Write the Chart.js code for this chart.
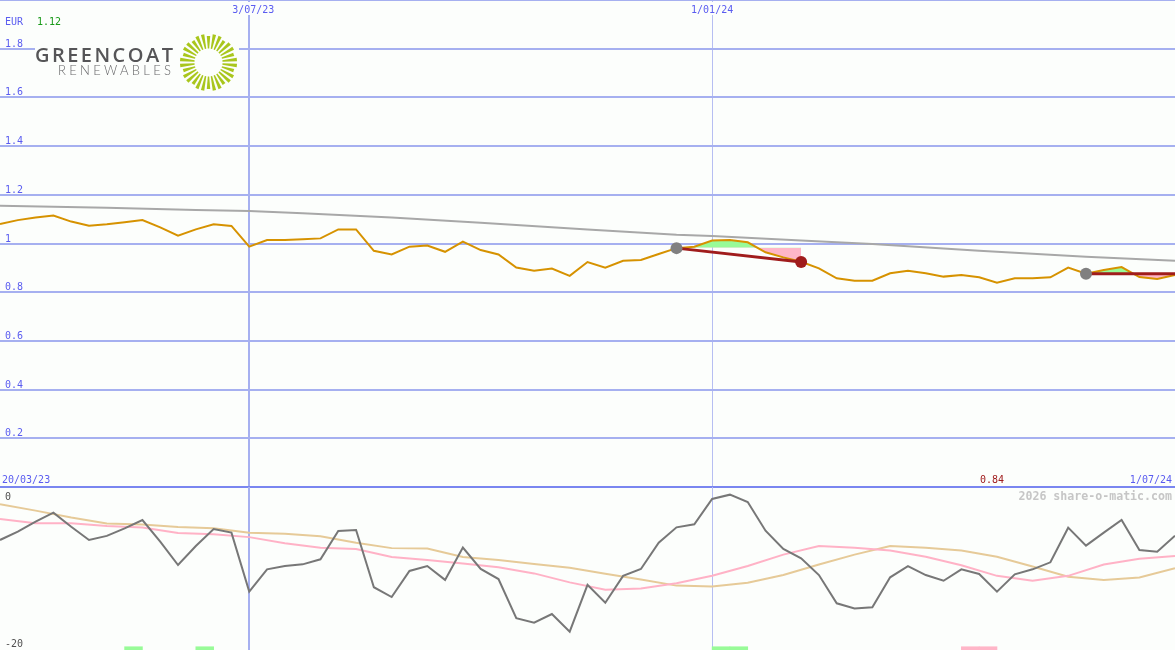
<!DOCTYPE html>
<html><head><meta charset="utf-8">
<script src="https://cdn.jsdelivr.net/npm/chart.js@4.4.1/dist/chart.umd.min.js"></script>
<style>
html,body{margin:0;padding:0;background:#fcfefc;}
#wrap{position:relative;width:1175px;height:650px;background:#fcfefc;overflow:hidden;}
#top{position:absolute;left:0;top:0;}
#bot{position:absolute;left:0;top:487px;}
</style></head><body>
<div id="wrap"><canvas id="top" width="1175" height="489"></canvas><canvas id="bot" width="1175" height="163"></canvas></div>
<script>
// ---- data (x = week index, 0 = first week shown, 66 = 1/07/24) ----
const firstWeek = 0;
const lastWeek = 66;
const price = [1.080,1.096,1.107,1.115,1.090,1.073,1.079,1.087,1.096,1.066,1.032,1.058,1.079,1.072,0.987,1.014,1.014,1.017,1.021,1.058,1.058,0.970,0.955,0.987,0.992,0.966,1.008,0.973,0.955,0.901,0.888,0.897,0.867,0.924,0.901,0.929,0.932,0.957,0.981,0.987,1.012,1.014,1.005,0.964,0.943,0.925,0.898,0.857,0.847,0.847,0.878,0.888,0.878,0.864,0.871,0.861,0.839,0.857,0.857,0.861,0.901,0.876,0.891,0.903,0.862,0.854,0.871];
const maWeeks = [0,6,11,14,17,22,27,33,38,40,45,49,55,61,66];
const maVals  = [1.155,1.147,1.138,1.133,1.124,1.107,1.085,1.057,1.036,1.031,1.012,0.998,0.970,0.946,0.929];

const trendStartWeek = [38, 61];
const trendEndWeek   = [45, 66];
const trendStartVal  = [0.981, 0.876];
const trendEndVal    = [0.924, 0.876];
const fillLevel      = [0.983, 0.876];

const dotWeek = [38, 45, 61];
const dotVal  = [0.981, 0.924, 0.876];
const dotKind = ['start', 'end', 'start'];

const osc = [-6.5,-5.48,-4.26,-3.15,-4.87,-6.5,-6.0,-5.07,-4.05,-6.71,-9.57,-7.24,-5.15,-5.6,-12.84,-10.1,-9.7,-9.49,-8.87,-5.4,-5.28,-12.3,-13.5,-10.3,-9.7,-11.4,-7.44,-10.06,-11.29,-16.1,-16.65,-15.58,-17.75,-12.0,-14.2,-10.9,-10.06,-6.83,-4.95,-4.58,-1.47,-0.94,-1.84,-5.36,-7.6,-8.75,-10.8,-14.27,-14.9,-14.76,-11.08,-9.7,-10.8,-11.5,-10.1,-10.67,-12.84,-10.72,-10.1,-9.24,-4.99,-7.2,-5.6,-4.05,-7.73,-7.94,-5.97];
const avgWeeks = [0,2,4,6,8,10,12,14,16,18,20,22,24,26,28,30,32,34,36,38,40,42,44,46,48,50,52,54,56,58,60,62,64,66];
const pinkAvg = [-3.93,-4.46,-4.46,-4.8,-4.98,-5.65,-5.81,-6.15,-6.9,-7.45,-7.6,-8.6,-8.95,-9.4,-9.85,-10.6,-11.7,-12.6,-12.45,-11.8,-10.9,-9.7,-8.3,-7.24,-7.45,-7.8,-8.55,-9.6,-10.9,-11.5,-10.9,-9.5,-8.8,-8.47];
const tanAvg  = [-2.13,-2.9,-3.75,-4.47,-4.6,-4.9,-5.05,-5.6,-5.75,-6.05,-6.85,-7.5,-7.55,-8.6,-8.95,-9.45,-9.9,-10.65,-11.35,-12.1,-12.2,-11.75,-10.8,-9.5,-8.3,-7.24,-7.45,-7.8,-8.55,-9.75,-11.0,-11.4,-11.1,-9.98];
const buyWeeks  = [7, 11, 40, 41];
const sellWeeks = [54, 55];

// ---- tick labels / text ----
const yTickVals = [1.8,1.6,1.4,1.2,1,0.8,0.6,0.4,0.2];
const yTickText = ['1.8','1.6','1.4','1.2','1','0.8','0.6','0.4','0.2'];
const dateLineWeeks = [14, 40];
const dateLineText  = ['3/07/23', '1/01/24'];
const startDateText = '20/03/23';
const endDateText   = '1/07/24';
const currencyText = 'EUR';
const highText = '1.12';
const lowText = '0.84';
const lowWeek = 56;
const oscTickVals = [0, -20];
const oscTickText = ['0', '-20'];

// ---- styles ----
const BG = '#fcfefc';
const BLUE = '#5a5cf0';
const GRID = '#a6b0f0';
const SEP = '#7a86f0';
const MONO = '"DejaVu Sans Mono", monospace';

const xScale = () => ({
  type:'linear', min:firstWeek, max:lastWeek, offset:false,
  afterBuildTicks: ax => { ax.ticks = dateLineWeeks.map(v => ({value:v})); },
  ticks:{display:false}, border:{display:false},
  grid:{drawTicks:false, offset:false,
    color: c => (c.tick && c.tick.value === dateLineWeeks[0]) ? '#a6b0f0' : '#b6bef2',
    lineWidth: c => (c.tick && c.tick.value === dateLineWeeks[0]) ? 2 : 1}
});

// ---- top chart ----
const topSets = [];
topSets.push({label:'dots', type:'scatter', data: dotWeek.map((w,i)=>({x:w,y:dotVal[i]})),
  pointRadius:6, pointHoverRadius:6, pointBorderWidth:0,
  pointBackgroundColor: dotKind.map(k => k==='start' ? '#808080' : '#a01c1c'), showLine:false, order:0});
trendStartWeek.forEach((w,i) => topSets.push({label:'trend'+i,
  data:[{x:w,y:trendStartVal[i]},{x:trendEndWeek[i],y:trendEndVal[i]}],
  borderColor:'#a01c1c', borderWidth:3, pointRadius:0, fill:false, order:1}));
topSets.push({label:'price', data: price.map((v,i)=>({x:i,y:v})), borderColor:'#d69200', borderWidth:2, pointRadius:0, fill:false, order:2});
topSets.push({label:'ma', data: maWeeks.map((w,i)=>({x:w,y:maVals[i]})), borderColor:'#a8a8a8', borderWidth:2, pointRadius:0, fill:false, order:3});
trendStartWeek.forEach((w,i) => {
  const seg = [];
  for (let k = w; k <= trendEndWeek[i]; k++) seg.push({x:k, y:price[k]});
  const baseIdx = topSets.length + 1;
  topSets.push({label:'fill'+i, data:seg, borderColor:'rgba(0,0,0,0)', borderWidth:1, pointRadius:0,
    fill:{target:baseIdx, above:'#98fb98', below:'#ffb6c8'}, order:4});
  topSets.push({label:'level'+i, data:[{x:w,y:fillLevel[i]},{x:trendEndWeek[i],y:fillLevel[i]}],
    borderColor:'rgba(0,0,0,0)', borderWidth:1, pointRadius:0, fill:false, order:5});
});

const topText = {
  id:'topText',
  afterDraw(chart){
    const {ctx, scales:{x, y}} = chart;
    ctx.save();
    ctx.textBaseline = 'alphabetic';
    ctx.font = '10px ' + MONO;
    ctx.fillStyle = BLUE; ctx.textAlign = 'left';
    yTickVals.forEach((v,i) => ctx.fillText(yTickText[i], 5, y.getPixelForValue(v) - 2));
    ctx.fillText(currencyText, 5, 25);
    ctx.fillStyle = '#189a18'; ctx.fillText(highText, 37, 25);
    dateLineWeeks.forEach((w,i) => {
      const px = x.getPixelForValue(w);
      ctx.fillStyle = BG; ctx.fillRect(px - 24, 2, 50, 13);
      ctx.fillStyle = BLUE; ctx.textAlign = 'center';
      ctx.fillText(dateLineText[i], px + (i === 0 ? 4 : 0), 13);
    });
    ctx.textAlign = 'left'; ctx.fillStyle = BLUE;
    ctx.fillText(startDateText, 2, 483);
    ctx.textAlign = 'right'; ctx.fillText(endDateText, 1172, 483);
    ctx.textAlign = 'center'; ctx.fillStyle = '#a01c1c';
    ctx.fillText(lowText, x.getPixelForValue(lowWeek) - 5, 483);
    // logo
    ctx.fillStyle = BG; ctx.fillRect(35, 33, 204, 59);
    ctx.textAlign = 'left';
    ctx.fillStyle = '#555557';
    ctx.font = '600 20px "Open Sans"';
    const t1 = 'GREENCOAT';
    let w1 = ctx.measureText(t1).width;
    ctx.letterSpacing = ((138 - w1) / (t1.length - 1)).toFixed(2) + 'px';
    ctx.fillText(t1, 35, 62);
    ctx.letterSpacing = '0px';
    ctx.fillStyle = '#666668';
    ctx.font = '300 13px Lato';
    const t2 = 'RENEWABLES';
    let w2 = ctx.measureText(t2).width;
    ctx.letterSpacing = ((113 - w2) / (t2.length - 1)).toFixed(2) + 'px';
    ctx.fillText(t2, 58, 75);
    ctx.letterSpacing = '0px';
    ctx.fillStyle = '#a9c61c';
    const cx = 208.5, cy = 62.5, n = 30;
    for (let k = 0; k < n; k++) {
      const a = (k + 0.5) * 2 * Math.PI / n;
      const r0 = 14, r1 = (k % 3 === 1 ? 26.5 : 28.5);
      const c = Math.cos(a), s = Math.sin(a);
      const h0 = 0.7, h1 = 1.7;
      ctx.beginPath();
      ctx.moveTo(cx + r0*c - h0*s, cy + r0*s + h0*c);
      ctx.lineTo(cx + r1*c - h1*s, cy + r1*s + h1*c);
      ctx.lineTo(cx + r1*c + h1*s, cy + r1*s - h1*c);
      ctx.lineTo(cx + r0*c + h0*s, cy + r0*s - h0*c);
      ctx.closePath();
      ctx.fill();
    }
    ctx.restore();
  }
};

new Chart(document.getElementById('top'), {
  type:'line',
  data:{datasets: topSets},
  options:{
    responsive:false, animation:false, devicePixelRatio:1,
    layout:{autoPadding:false, padding:{left:0,right:0,top:0,bottom:2}},
    plugins:{legend:{display:false}, tooltip:{enabled:false}},
    elements:{line:{tension:0}},
    scales:{
      x: xScale(),
      y:{min:0, max:2, ticks:{display:false, stepSize:0.2}, border:{display:false},
        grid:{drawTicks:false, color: c => (c.tick && Math.abs(c.tick.value) < 1e-9) ? SEP : GRID, lineWidth:2}}
    }
  },
  plugins:[topText]
});

// ---- bottom chart ----
const botText = {
  id:'botText',
  afterDraw(chart){
    const {ctx, scales:{y}} = chart;
    ctx.save();
    ctx.font = '10px ' + MONO; ctx.fillStyle = '#505050'; ctx.textAlign = 'left';
    ctx.textBaseline = 'alphabetic';
    ctx.fillText(oscTickText[0], 5, y.getPixelForValue(oscTickVals[0]) + 13);
    ctx.fillText(oscTickText[1], 5, y.getPixelForValue(oscTickVals[1]) - 3);
    ctx.font = 'bold 11.6px ' + MONO; ctx.fillStyle = '#c6c6c6'; ctx.textAlign = 'right';
    ctx.fillText('2026 share-o-matic.com', 1172, 13);
    ctx.restore();
  }
};

const sigData = buyWeeks.map(w => ({x:w+0.5, y:[-20,-19.6]})).concat(sellWeeks.map(w => ({x:w+0.5, y:[-20,-19.6]})));
const sigColors = buyWeeks.map(() => '#98fb98').concat(sellWeeks.map(() => '#ffb6c8'));

new Chart(document.getElementById('bot'), {
  type:'line',
  data:{datasets:[
    {label:'osc', data: osc.map((v,i)=>({x:i,y:v})), borderColor:'#777777', borderWidth:2, pointRadius:0, fill:false, order:0},
    {label:'pink', data: avgWeeks.map((w,i)=>({x:w,y:pinkAvg[i]})), borderColor:'#ffb2c6', borderWidth:2, pointRadius:0, fill:false, order:1},
    {label:'tan', data: avgWeeks.map((w,i)=>({x:w,y:tanAvg[i]})), borderColor:'#e6ca98', borderWidth:2, pointRadius:0, fill:false, order:2},
    {label:'signals', type:'bar', data: sigData, backgroundColor: sigColors, barPercentage:1, categoryPercentage:1, borderWidth:0, order:3}
  ]},
  options:{
    responsive:false, animation:false, devicePixelRatio:1,
    layout:{autoPadding:false, padding:0},
    plugins:{legend:{display:false}, tooltip:{enabled:false}},
    elements:{line:{tension:0}},
    scales:{
      x: xScale(),
      y:{display:false, min:-20, max:0, ticks:{display:false}, border:{display:false}, grid:{display:false, drawTicks:false}}
    }
  },
  plugins:[botText]
});
</script>
</body></html>
